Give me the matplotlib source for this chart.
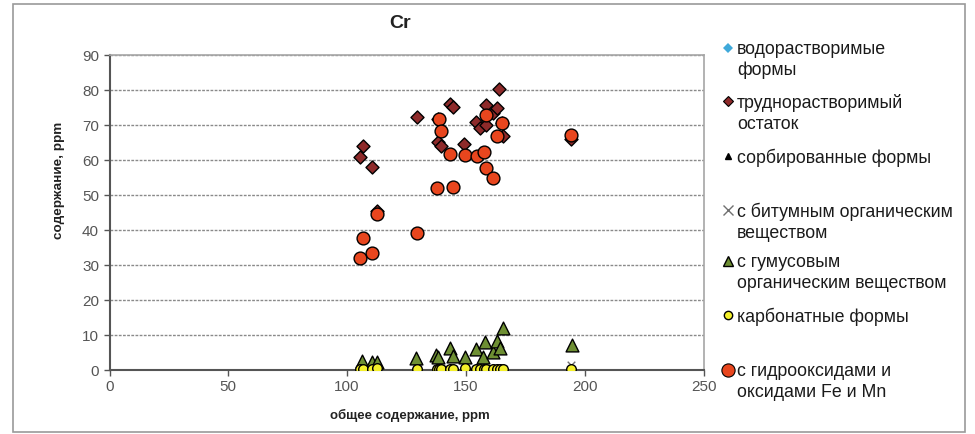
import matplotlib
matplotlib.use("Agg")
import matplotlib.pyplot as plt
from matplotlib.lines import Line2D
from matplotlib.patches import Rectangle

plt.rcParams['font.family'] = ['Liberation Sans', 'DejaVu Sans']

# -----------------------------
# Data
# -----------------------------

# труднорастворимый остаток
resid_x = [105.4, 106.6, 110.6, 112.4, 129.3, 138.3, 138.1, 139.4, 143.1, 144.4, 149.3,
           154.3, 155.9, 158.4, 158.4, 161.6, 163.2, 164.1, 165.6, 165.3, 194.2]
resid_y = [60.7, 63.8, 57.9, 45.4, 72.2, 71.6, 65.0, 63.8, 76.0, 74.9, 64.4,
           70.8, 69.1, 75.5, 69.8, 73.4, 74.8, 80.1, 66.6, 70.4, 66.0]

# с гидрооксидами и оксидами Fe и Mn
fe_x = [105.4, 106.6, 110.6, 112.6, 129.3, 137.7, 138.7, 139.4, 143.3, 144.4,
        149.8, 154.5, 157.6, 158.4, 158.4, 161.5, 163.2, 165.3, 194.2]
fe_y = [31.8, 37.6, 33.3, 44.5, 38.9, 51.8, 71.5, 68.1, 61.6, 52.3,
        61.3, 61.1, 62.1, 72.6, 57.7, 54.7, 66.6, 70.3, 67.0]

# с гумусовым органическим веществом
hum_x = [106.1, 110.3, 112.7, 129.0, 137.4, 138.4, 143.3, 144.4, 149.6, 154.2,
         158.0, 157.3, 161.5, 163.0, 164.4, 165.5, 194.6]
hum_y = [2.6, 2.3, 2.1, 3.2, 4.2, 3.5, 6.1, 3.8, 3.5, 5.9,
         8.0, 3.5, 5.1, 8.3, 6.1, 11.8, 7.0]

# samples for the small fractions near zero
low_x = [105.4, 106.6, 110.6, 112.6, 129.3, 137.7, 138.7, 139.4, 143.3, 144.4,
         149.6, 154.3, 156.0, 157.6, 158.4, 161.5, 163.2, 164.4, 165.5, 194.3]
water_y = [0.1, 0.1, 0.1, 0.1, 0.1, 0.1, 0.1, 0.1, 0.1, 0.1,
           0.1, 0.1, 0.1, 0.1, 0.1, 0.1, 0.1, 0.1, 0.1, 0.1]
sorb_y = [0.3, 0.3, 0.2, 0.3, 0.3, 0.2, 0.3, 0.3, 0.2, 0.3,
          0.3, 0.2, 0.3, 0.3, 0.2, 0.3, 0.3, 0.2, 0.3, 0.4]
bit_y = [0.2, 0.2, 0.2, 0.2, 0.2, 0.2, 0.2, 0.2, 0.2, 0.2,
         0.2, 0.2, 0.2, 0.2, 0.2, 0.2, 0.2, 0.2, 0.2, 1.3]
carb_y = [0.3, 0.2, 0.2, 0.4, 0.3, 0.2, 0.3, 0.2, 0.3, 0.2,
          0.4, 0.2, 0.3, 0.2, 0.3, 0.3, 0.3, 0.3, 0.3, 0.3]

legend_labels = [
    'водорастворимые\nформы',
    'труднорастворимый\nостаток',
    'сорбированные формы',
    'с битумным органическим\nвеществом',
    'с гумусовым\nорганическим веществом',
    'карбонатные формы',
    'с гидрооксидами и\nоксидами Fe и Mn',
]

c_water = '#3FA9DA'
c_resid = '#8E2A2A'
c_hum = '#6E8F33'
c_carb = '#F4F02A'
c_fe = '#E8461E'

# -----------------------------
# Figure
# -----------------------------

W, H = 975, 435
fig = plt.figure(figsize=(W / 100, H / 100), dpi=100)
fig.patches.append(Rectangle((13 / W, 1 - 433 / H), 952 / W, 428 / H,
                             transform=fig.transFigure, fill=False,
                             edgecolor='#9a9a9a', lw=1.2))

ax = fig.add_axes([109.5 / W, 1 - 370.7 / H, 594 / W, 315.2 / H])

ax.scatter(low_x, water_y, marker='D', s=30, color=c_water, zorder=3, lw=0)
ax.scatter(resid_x, resid_y, marker='D', s=44, facecolor=c_resid,
           edgecolor='black', lw=1, zorder=4)
ax.scatter(low_x, sorb_y, marker='^', s=10, color='black', zorder=5)
ax.scatter(low_x, bit_y, marker='x', s=30, color='#707070', lw=1, zorder=6)
ax.scatter(hum_x, hum_y, marker='^', s=85, facecolor=c_hum,
           edgecolor='black', lw=1, zorder=7)
ax.scatter(low_x, carb_y, marker='o', s=48, facecolor=c_carb,
           edgecolor='black', lw=1, zorder=8)
ax.scatter(fe_x, fe_y, marker='o', s=85, facecolor=c_fe,
           edgecolor='black', lw=1, zorder=9)

ax.set_xlim(0, 250)
ax.set_ylim(0, 90)
ax.set_xticks(range(0, 251, 50))
ax.set_yticks(range(0, 91, 10))
ax.yaxis.grid(True, color='#8a8a8a', linestyle=(0, (2, 1)), lw=1)
ax.set_axisbelow(True)

for s in ['top', 'right']:
    ax.spines[s].set_color('#a6a6a6')
    ax.spines[s].set_linewidth(1.2)
for s in ['left', 'bottom']:
    ax.spines[s].set_color('#555555')
    ax.spines[s].set_linewidth(1.5)
ax.spines['bottom'].set_zorder(2.5)

ax.tick_params(axis='both', colors='#555555', labelcolor='#555555',
               labelsize=11, length=4, width=1)
ax.tick_params(axis='x', pad=3)

fig.text(400 / W, 1 - 23 / H, 'Cr', ha='center', va='center',
         fontsize=14, fontweight='bold', color='#222222')
fig.text(410 / W, 1 - 415 / H, 'общее содержание, ppm', ha='center',
         va='center', fontsize=9.5, fontweight='bold', color='#222222')
fig.text(59 / W, 1 - 180 / H, 'содержание, ppm', ha='center', va='center',
         rotation=90, fontsize=9.7, fontweight='bold', color='#222222')

# -----------------------------
# Legend (drawn by hand, marker next to first line)
# -----------------------------

leg_y = [48.5, 102, 157, 211, 262, 316, 371]
leg_marks = [
    dict(marker='D', markersize=5, color=c_water, lw=0, markeredgewidth=0),
    dict(marker='D', markersize=5, markerfacecolor=c_resid, markeredgecolor='black', markeredgewidth=0.8, lw=0),
    dict(marker='^', markersize=4, color='black', lw=0),
    dict(marker='x', markersize=7, color='#707070', markeredgewidth=1, lw=0),
    dict(marker='^', markersize=7, markerfacecolor=c_hum, markeredgecolor='black', markeredgewidth=1, lw=0),
    dict(marker='o', markersize=6, markerfacecolor=c_carb, markeredgecolor='black', markeredgewidth=1, lw=0),
    dict(marker='o', markersize=9.5, markerfacecolor=c_fe, markeredgecolor='black', markeredgewidth=0.8, lw=0),
]
for yy, lab, mk in zip(leg_y, legend_labels, leg_marks):
    fig.add_artist(Line2D([728 / W], [1 - yy / H], transform=fig.transFigure, **mk))
    fig.text(737 / W, 1 - (yy - 8) / H, lab, ha='left', va='top',
             fontsize=12.8, color='#1a1a1a', linespacing=1.28)

plt.savefig('out.png', dpi=100)
